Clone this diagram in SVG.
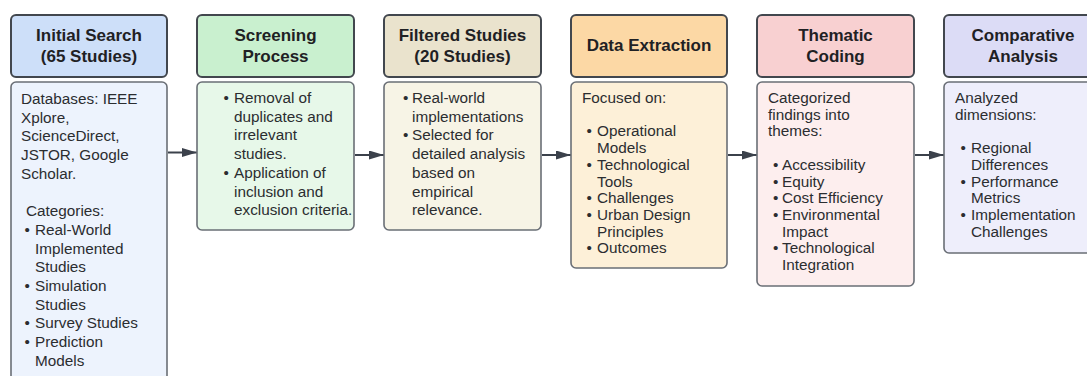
<svg xmlns="http://www.w3.org/2000/svg" width="1087" height="376" viewBox="0 0 1087 376">
  <defs>
    <marker id="arrow" viewBox="0 0 15 9" refX="15" refY="4.5" markerWidth="15" markerHeight="9" markerUnits="userSpaceOnUse" orient="auto">
      <path d="M0,0 L15,4.5 L0,9 z" fill="#3b414b"/>
    </marker>
  </defs>
  <style>
    .head { stroke: #42474e; stroke-width: 2; }
    .body { stroke: #6a6f76; stroke-width: 1.6; }
    .title { font-family: "Liberation Sans", Arial, sans-serif; font-size: 17px; font-weight: bold; fill: #1f2124; text-anchor: middle; }
    .txt { font-family: "Liberation Sans", Arial, sans-serif; font-size: 15.3px; fill: #2b2d30; }
    .link { stroke: #3b414b; stroke-width: 2; fill: none; }
  </style>
  <rect width="1087" height="376" fill="#ffffff"/>

  <g id="connectors">
    <line class="link" x1="168" y1="152.5" x2="197" y2="152.5" marker-end="url(#arrow)"/>
    <line class="link" x1="355" y1="155" x2="384" y2="155" marker-end="url(#arrow)"/>
    <line class="link" x1="542" y1="155" x2="571" y2="155" marker-end="url(#arrow)"/>
    <line class="link" x1="728" y1="155" x2="757" y2="155" marker-end="url(#arrow)"/>
    <line class="link" x1="915" y1="155" x2="944" y2="155" marker-end="url(#arrow)"/>
  </g>

  <g id="initial-search">
    <rect class="head" x="11" y="15" width="156" height="62" rx="5" fill="#cddff9"/>
    <text class="title"><tspan x="89" y="41">Initial Search</tspan><tspan x="89" y="62">(65 Studies)</tspan></text>
    <rect class="body" x="11" y="82" width="156" height="310" rx="5" fill="#edf3fd"/>
    <text class="txt">
      <tspan x="21" y="104">Databases: IEEE</tspan>
      <tspan x="21" y="122.7">Xplore,</tspan>
      <tspan x="21" y="141.4">ScienceDirect,</tspan>
      <tspan x="21" y="160.1">JSTOR, Google</tspan>
      <tspan x="21" y="178.8">Scholar.</tspan>
      <tspan x="26" y="216.2">Categories:</tspan>
      <tspan x="24.5" y="234.9">•</tspan><tspan x="35" y="234.9">Real-World</tspan>
      <tspan x="35" y="253.6">Implemented</tspan>
      <tspan x="35" y="272.3">Studies</tspan>
      <tspan x="24.5" y="291">•</tspan><tspan x="35" y="291">Simulation</tspan>
      <tspan x="35" y="309.7">Studies</tspan>
      <tspan x="24.5" y="328.4">•</tspan><tspan x="35" y="328.4">Survey Studies</tspan>
      <tspan x="24.5" y="347.1">•</tspan><tspan x="35" y="347.1">Prediction</tspan>
      <tspan x="35" y="365.8">Models</tspan>
    </text>
  </g>

  <g id="screening-process">
    <rect class="head" x="197" y="15" width="157" height="62" rx="5" fill="#c9f0cf"/>
    <text class="title"><tspan x="275.5" y="41">Screening</tspan><tspan x="275.5" y="62">Process</tspan></text>
    <rect class="body" x="197" y="82" width="157" height="148" rx="5" fill="#e7f8e9"/>
    <text class="txt">
      <tspan x="223.5" y="103">•</tspan><tspan x="234" y="103">Removal of</tspan>
      <tspan x="234" y="121.7">duplicates and</tspan>
      <tspan x="234" y="140.4">irrelevant</tspan>
      <tspan x="234" y="159.1">studies.</tspan>
      <tspan x="223.5" y="177.8">•</tspan><tspan x="234" y="177.8">Application of</tspan>
      <tspan x="234" y="196.5">inclusion and</tspan>
      <tspan x="234" y="215.2">exclusion criteria.</tspan>
    </text>
  </g>

  <g id="filtered-studies">
    <rect class="head" x="384" y="15" width="157" height="62" rx="5" fill="#eae3cd"/>
    <text class="title"><tspan x="462.5" y="41">Filtered Studies</tspan><tspan x="462.5" y="62">(20 Studies)</tspan></text>
    <rect class="body" x="384" y="82" width="157" height="148" rx="5" fill="#f7f4e6"/>
    <text class="txt">
      <tspan x="403" y="103">•</tspan><tspan x="412" y="103">Real-world</tspan>
      <tspan x="412" y="121.7">implementations</tspan>
      <tspan x="403" y="140.4">•</tspan><tspan x="412" y="140.4">Selected for</tspan>
      <tspan x="412" y="159.1">detailed analysis</tspan>
      <tspan x="412" y="177.8">based on</tspan>
      <tspan x="412" y="196.5">empirical</tspan>
      <tspan x="412" y="215.2">relevance.</tspan>
    </text>
  </g>

  <g id="data-extraction">
    <rect class="head" x="571" y="15" width="156" height="62" rx="5" fill="#fcd8a5"/>
    <text class="title"><tspan x="649" y="51">Data Extraction</tspan></text>
    <rect class="body" x="571" y="82" width="156" height="186" rx="5" fill="#fdf0d8"/>
    <text class="txt">
      <tspan x="582" y="103">Focused on:</tspan>
      <tspan x="586.5" y="136.4">•</tspan><tspan x="597" y="136.4">Operational</tspan>
      <tspan x="597" y="153.1">Models</tspan>
      <tspan x="586.5" y="169.8">•</tspan><tspan x="597" y="169.8">Technological</tspan>
      <tspan x="597" y="186.5">Tools</tspan>
      <tspan x="586.5" y="203.2">•</tspan><tspan x="597" y="203.2">Challenges</tspan>
      <tspan x="586.5" y="219.9">•</tspan><tspan x="597" y="219.9">Urban Design</tspan>
      <tspan x="597" y="236.6">Principles</tspan>
      <tspan x="586.5" y="253.3">•</tspan><tspan x="597" y="253.3">Outcomes</tspan>
    </text>
  </g>

  <g id="thematic-coding">
    <rect class="head" x="757" y="15" width="157" height="62" rx="5" fill="#f8d0d1"/>
    <text class="title"><tspan x="835.5" y="41">Thematic</tspan><tspan x="835.5" y="62">Coding</tspan></text>
    <rect class="body" x="757" y="82" width="157" height="204" rx="5" fill="#fdeeee"/>
    <text class="txt">
      <tspan x="768" y="103">Categorized</tspan>
      <tspan x="768" y="119.7">findings into</tspan>
      <tspan x="768" y="136.4">themes:</tspan>
      <tspan x="773" y="169.8">•</tspan><tspan x="782" y="169.8">Accessibility</tspan>
      <tspan x="773" y="186.5">•</tspan><tspan x="782" y="186.5">Equity</tspan>
      <tspan x="773" y="203.2">•</tspan><tspan x="782" y="203.2">Cost Efficiency</tspan>
      <tspan x="773" y="219.9">•</tspan><tspan x="782" y="219.9">Environmental</tspan>
      <tspan x="782" y="236.6">Impact</tspan>
      <tspan x="773" y="253.3">•</tspan><tspan x="782" y="253.3">Technological</tspan>
      <tspan x="782" y="270">Integration</tspan>
    </text>
  </g>

  <g id="comparative-analysis">
    <rect class="head" x="944" y="15" width="158" height="62" rx="5" fill="#dcdcf6"/>
    <text class="title"><tspan x="1023" y="41">Comparative</tspan><tspan x="1023" y="62">Analysis</tspan></text>
    <rect class="body" x="944" y="82" width="158" height="171" rx="5" fill="#eeeefb"/>
    <text class="txt">
      <tspan x="955" y="103">Analyzed</tspan>
      <tspan x="955" y="119.7">dimensions:</tspan>
      <tspan x="960.5" y="153.1">•</tspan><tspan x="971" y="153.1">Regional</tspan>
      <tspan x="971" y="169.8">Differences</tspan>
      <tspan x="960.5" y="186.5">•</tspan><tspan x="971" y="186.5">Performance</tspan>
      <tspan x="971" y="203.2">Metrics</tspan>
      <tspan x="960.5" y="219.9">•</tspan><tspan x="971" y="219.9">Implementation</tspan>
      <tspan x="971" y="236.6">Challenges</tspan>
    </text>
  </g>
</svg>
